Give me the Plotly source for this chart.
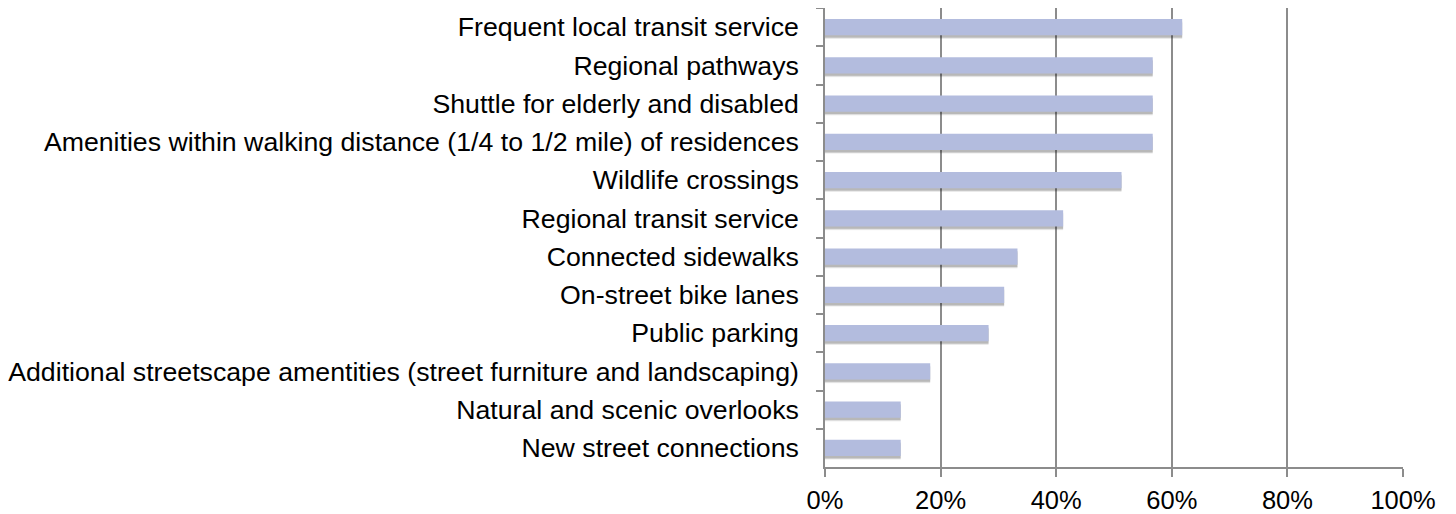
import plotly.graph_objects as go

categories = [
    "Frequent local transit service",
    "Regional pathways",
    "Shuttle for elderly and disabled",
    "Amenities within walking distance (1/4 to 1/2 mile) of residences",
    "Wildlife crossings",
    "Regional transit service",
    "Connected sidewalks",
    "On-street bike lanes",
    "Public parking",
    "Additional streetscape amentities (street furniture and landscaping)",
    "Natural and scenic overlooks",
    "New street connections",
]
values = [0.618, 0.567, 0.567, 0.567, 0.513, 0.412, 0.333, 0.310, 0.283, 0.182, 0.131, 0.131]
x_ticks = [0, 0.2, 0.4, 0.6, 0.8, 1.0]
x_tick_labels = ["0%", "20%", "40%", "60%", "80%", "100%"]

BAR_W = 0.42
fig = go.Figure()
# soft drop shadow layers
for off, alpha in [(0.10, 0.06), (0.08, 0.10), (0.06, 0.14)]:
    fig.add_trace(go.Bar(
        y=categories, x=values, orientation="h",
        width=BAR_W, offset=-BAR_W / 2 + off,
        marker=dict(color=f"rgba(0,0,0,{alpha})", line=dict(width=0)),
        hoverinfo="skip", showlegend=False,
    ))
fig.add_trace(go.Bar(
    y=categories, x=values, orientation="h",
    width=BAR_W, offset=-BAR_W / 2,
    marker=dict(color="#b3bcde", line=dict(width=0)),
    showlegend=False,
))

fig.update_layout(
    width=1448, height=506,
    margin=dict(l=817, r=53, t=0, b=47),
    paper_bgcolor="white", plot_bgcolor="white",
    barmode="overlay",
    font=dict(family="Liberation Sans, Arial, sans-serif", color="black"),
)
fig.update_xaxes(
    range=[0, 1], tickvals=x_ticks, ticktext=x_tick_labels,
    showgrid=True, gridcolor="#8c8c8c", gridwidth=1.5,
    showline=True, linecolor="#8c8c8c", linewidth=1.5,
    ticks="outside", ticklen=8, tickcolor="#8c8c8c", tickwidth=1.5,
    tickfont=dict(size=25.5), zeroline=False,
    ticklabelstandoff=2, automargin=False,
)
fig.update_yaxes(
    autorange="reversed", tickson="boundaries",
    showline=True, linecolor="#8c8c8c", linewidth=1.5,
    ticks="outside", ticklen=7, tickcolor="#8c8c8c", tickwidth=1.5,
    tickfont=dict(size=26.7), showgrid=False,
    ticklabelstandoff=19, automargin=False,
)
fig.write_html("out.html")
